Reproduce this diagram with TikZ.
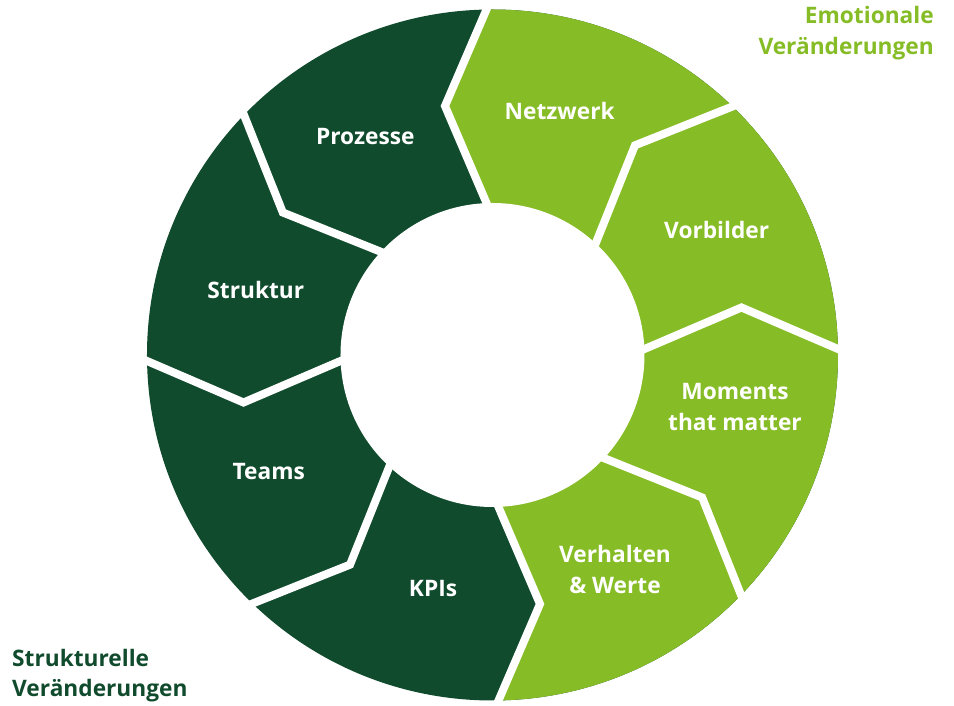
\documentclass[tikz,border=0pt]{standalone}
\usepackage{fontspec}
\setmainfont{Open Sans}
\usetikzlibrary{calc}
\definecolor{deepgreen}{RGB}{17,75,45}
\definecolor{leafgreen}{RGB}{134,188,37}
\begin{document}
\begin{tikzpicture}[x=1pt,y=1pt,
  gap/.style={draw=white,line width=8pt,line join=miter},
  seglabel/.style={text=white,font=\bfseries\fontsize{22.7}{31}\selectfont,align=center,anchor=base,inner sep=0pt},
  grouplabel/.style={font=\bfseries\fontsize{22.7}{31}\selectfont,inner sep=0pt}]
\useasboundingbox (-492.5,-351) rectangle (461.5,355);

% radii of the ring and the chevron kinks of the dividing lines
\def\rin{152}
\def\rout{345.5}
\foreach \a in {0,45,...,315} {
  \coordinate (in\a)  at ($(\a:\rin)+({\a+90}:6)$);
  \coordinate (kn\a)  at ($(\a:249)+({\a+90}:47.5)$);
  \coordinate (out\a) at ($(\a:\rout)+({\a+90}:6)$);
}

% ring: dark left half, light right half
\fill[deepgreen] (0,0) circle (\rout);
\begin{scope}
  \clip (0,0) circle (\rout);
  \fill[leafgreen] ($(in90)!-1!(kn90)$) -- (kn90) -- ($(out90)!-0.5!(kn90)$)
    -- (60:600) -- (0:600) -- (-60:600)
    -- ($(out270)!-0.5!(kn270)$) -- (kn270) -- ($(in270)!-1!(kn270)$) -- cycle;
\end{scope}
\fill[white] (0,0) circle (\rin);

% white chevron gaps between the segments
\foreach \a in {0,45,...,315}
  \draw[gap] ($(in\a)!-0.3!(kn\a)$) -- (kn\a) -- ($(out\a)!-0.3!(kn\a)$);

% segment labels (base = baseline of the last line)
\node[seglabel] (netzwerk)  at (67.2,235.7)   {Netzwerk};
\node[seglabel] (vorbilder) at (224.2,116)    {Vorbilder};
\node[seglabel] (moments)   at (242.5,-75.7)  {Moments\\that matter};
\node[seglabel] (verhalten) at (122.5,-239)   {Verhalten\\\& Werte};
\node[seglabel] (kpis)      at (-59.5,-241.7) {KPIs};
\node[seglabel] (teams)     at (-223.8,-125)  {Teams};
\node[seglabel] (struktur)  at (-236.7,56.7)  {Struktur};
\node[seglabel] (prozesse)  at (-127.2,210)   {Prozesse};

% group captions
\node[grouplabel,text=leafgreen,align=right,anchor=base east] (emo) at (441.5,300)
  {Emotionale\\Veränderungen};
\node[grouplabel,text=deepgreen,align=left,anchor=base west] (struk) at (-480.5,-342)
  {Strukturelle\\Veränderungen};
\end{tikzpicture}
\end{document}
